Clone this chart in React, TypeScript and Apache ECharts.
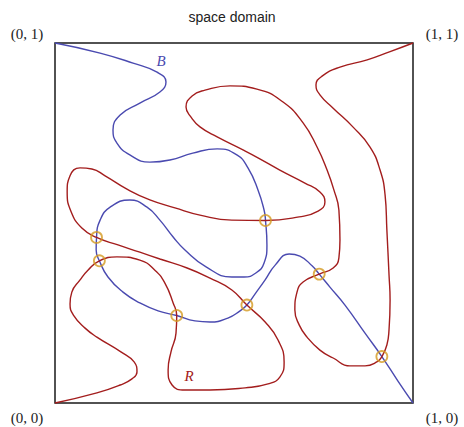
import React, { useEffect, useRef } from "react";
import * as echarts from "echarts";

// Curve B (blue) from (0,1) to (1,0)
const blueX = [0, 0.126, 0.218, 0.285, 0.31, 0.293, 0.237, 0.182, 0.162, 0.173, 0.209, 0.265, 0.321, 0.385, 0.453, 0.508, 0.539, 0.567, 0.584, 0.588, 0.592, 0.584, 0.561, 0.528, 0.494, 0.422, 0.363, 0.33, 0.293, 0.257, 0.209, 0.154, 0.126, 0.116, 0.115, 0.124, 0.148, 0.19, 0.237, 0.288, 0.34, 0.391, 0.433, 0.483, 0.517, 0.536, 0.561, 0.587, 0.615, 0.654, 0.684, 0.718, 0.738, 0.768, 0.81, 0.866, 0.913, 0.958, 1];
const blueY = [1, 0.972, 0.944, 0.919, 0.892, 0.864, 0.833, 0.8, 0.758, 0.722, 0.689, 0.669, 0.675, 0.694, 0.706, 0.689, 0.653, 0.592, 0.536, 0.507, 0.439, 0.389, 0.361, 0.35, 0.35, 0.378, 0.425, 0.461, 0.508, 0.544, 0.564, 0.544, 0.508, 0.46, 0.425, 0.395, 0.35, 0.308, 0.278, 0.256, 0.243, 0.228, 0.225, 0.236, 0.256, 0.272, 0.306, 0.342, 0.383, 0.414, 0.408, 0.381, 0.358, 0.322, 0.272, 0.194, 0.129, 0.061, 0];

// Curve R (red) from (0,0) to (1,1)
const redX = [0, 0.117, 0.182, 0.215, 0.229, 0.221, 0.184, 0.117, 0.084, 0.053, 0.042, 0.047, 0.07, 0.092, 0.124, 0.173, 0.237, 0.279, 0.307, 0.33, 0.34, 0.338, 0.324, 0.316, 0.327, 0.363, 0.433, 0.531, 0.595, 0.628, 0.64, 0.623, 0.587, 0.536, 0.494, 0.433, 0.369, 0.293, 0.237, 0.176, 0.116, 0.075, 0.045, 0.034, 0.042, 0.07, 0.103, 0.14, 0.201, 0.265, 0.335, 0.405, 0.494, 0.588, 0.682, 0.735, 0.754, 0.74, 0.698, 0.628, 0.567, 0.525, 0.453, 0.405, 0.38, 0.366, 0.383, 0.419, 0.489, 0.564, 0.637, 0.693, 0.732, 0.76, 0.779, 0.793, 0.796, 0.793, 0.777, 0.738, 0.693, 0.676, 0.67, 0.682, 0.704, 0.74, 0.777, 0.824, 0.866, 0.899, 0.913, 0.927, 0.933, 0.936, 0.933, 0.927, 0.922, 0.908, 0.88, 0.832, 0.777, 0.74, 0.729, 0.746, 0.796, 0.872, 0.936, 1];
const redY = [0, 0.028, 0.05, 0.067, 0.086, 0.114, 0.142, 0.183, 0.208, 0.242, 0.275, 0.308, 0.342, 0.369, 0.395, 0.406, 0.397, 0.369, 0.333, 0.278, 0.243, 0.194, 0.142, 0.092, 0.05, 0.036, 0.036, 0.042, 0.053, 0.072, 0.114, 0.175, 0.225, 0.272, 0.314, 0.347, 0.375, 0.4, 0.419, 0.439, 0.46, 0.486, 0.531, 0.586, 0.631, 0.653, 0.65, 0.631, 0.594, 0.564, 0.542, 0.522, 0.508, 0.507, 0.517, 0.533, 0.558, 0.586, 0.611, 0.647, 0.681, 0.703, 0.739, 0.767, 0.794, 0.822, 0.853, 0.869, 0.881, 0.872, 0.836, 0.778, 0.711, 0.647, 0.592, 0.536, 0.453, 0.403, 0.375, 0.358, 0.336, 0.308, 0.258, 0.217, 0.183, 0.147, 0.125, 0.103, 0.103, 0.114, 0.129, 0.161, 0.203, 0.286, 0.356, 0.481, 0.578, 0.647, 0.711, 0.767, 0.819, 0.856, 0.883, 0.908, 0.933, 0.953, 0.976, 1];

// Intersections of B and R
const crossX = [0.116, 0.124, 0.34, 0.536, 0.588, 0.738, 0.913];
const crossY = [0.46, 0.395, 0.243, 0.272, 0.507, 0.358, 0.129];

const cornerLabels = ["(0, 1)", "(1, 1)", "(0, 0)", "(1, 0)"];
const titleText = "space domain";

const zip = (xs: number[], ys: number[]) => xs.map((x, i) => [x, ys[i]]);

export default function App() {
  const ref = useRef<HTMLDivElement>(null);
  useEffect(() => {
    document.body.style.margin = "0";
    const chart = echarts.init(ref.current!, null, { renderer: "svg" });
    const serif = "'Liberation Serif', 'DejaVu Serif', serif";
    chart.setOption({
      animation: false,
      title: {
        text: titleText,
        left: "center",
        top: 5,
        textStyle: { fontSize: 14, fontWeight: "normal", color: "#222", fontFamily: "'Liberation Sans', Arial, sans-serif" },
      },
      grid: { left: 55, top: 43, width: 358, height: 360, show: true, borderColor: "#1a1a1a", borderWidth: 1.5, backgroundColor: "transparent" },
      xAxis: { type: "value", min: 0, max: 1, show: false },
      yAxis: { type: "value", min: 0, max: 1, show: false },
      graphic: [
        { type: "text", x: 27, y: 34, style: { text: cornerLabels[0], font: `15px ${serif}`, fill: "#222", align: "center", verticalAlign: "middle" } },
        { type: "text", x: 442, y: 34, style: { text: cornerLabels[1], font: `15px ${serif}`, fill: "#222", align: "center", verticalAlign: "middle" } },
        { type: "text", x: 27, y: 418, style: { text: cornerLabels[2], font: `15px ${serif}`, fill: "#222", align: "center", verticalAlign: "middle" } },
        { type: "text", x: 442, y: 418, style: { text: cornerLabels[3], font: `15px ${serif}`, fill: "#222", align: "center", verticalAlign: "middle" } },
        { type: "text", x: 161, y: 61, style: { text: "B", font: `italic 15px ${serif}`, fill: "#4a4ab0", align: "center", verticalAlign: "middle" } },
        { type: "text", x: 189, y: 376, style: { text: "R", font: `italic 15px ${serif}`, fill: "#a32020", align: "center", verticalAlign: "middle" } },
      ],
      series: [
        {
          type: "line",
          data: zip(blueX, blueY),
          smooth: 0.5,
          showSymbol: false,
          symbol: "none",
          lineStyle: { color: "#4a4ab0", width: 1.4 },
          clip: false,
          silent: true,
        },
        {
          type: "line",
          data: zip(redX, redY),
          smooth: 0.5,
          showSymbol: false,
          symbol: "none",
          lineStyle: { color: "#a31d1d", width: 1.4 },
          clip: false,
          silent: true,
        },
        {
          type: "scatter",
          data: zip(crossX, crossY),
          symbol: "circle",
          symbolSize: 11,
          itemStyle: { color: "rgba(0,0,0,0)", borderColor: "#d49a20", borderWidth: 1.8 },
          z: 5,
          silent: true,
        },
      ],
    });
    return () => chart.dispose();
  }, []);
  return <div ref={ref} style={{ width: 464, height: 427 }} />;
}
